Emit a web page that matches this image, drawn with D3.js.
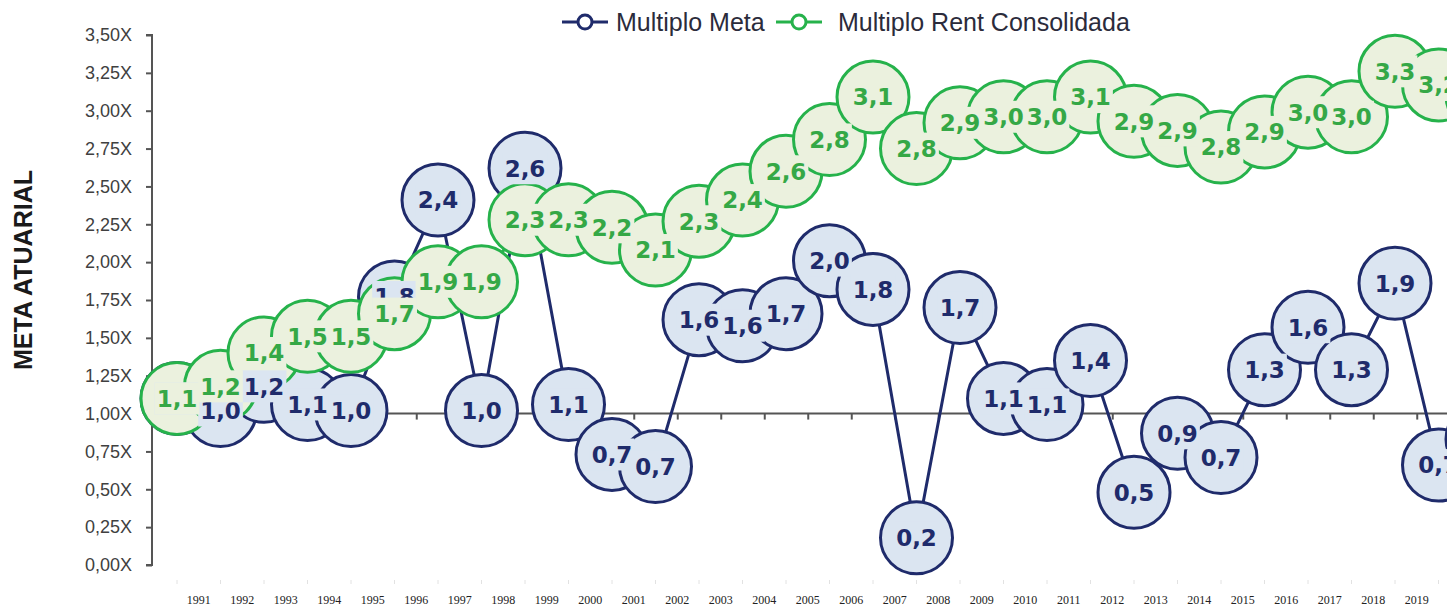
<!DOCTYPE html>
<html>
<head>
<meta charset="utf-8">
<script src="https://cdn.jsdelivr.net/npm/d3@7"></script>
<style>
  html, body { margin: 0; padding: 0; background: #fff; overflow: hidden; }
  svg { display: block; }
</style>
</head>
<body>
<svg id="chart" width="1447" height="613"></svg>
<script>
// --- data ---
const years = [1991, 1992, 1993, 1994, 1995, 1996, 1997, 1998, 1999, 2000,
               2001, 2002, 2003, 2004, 2005, 2006, 2007, 2008, 2009, 2010,
               2011, 2012, 2013, 2014, 2015, 2016, 2017, 2018, 2019, 2020, 2021];

const multiploMeta = [1.10, 1.02, 1.18, 1.06, 1.02, 1.77, 2.41, 1.02, 2.62, 1.06,
                      0.73, 0.65, 1.62, 1.58, 1.66, 2.01, 1.82, 0.18, 1.70, 1.10,
                      1.06, 1.35, 0.48, 0.87, 0.71, 1.29, 1.57, 1.29, 1.86, 0.66, 0.83];

const multiploRent = [1.10, 1.18, 1.40, 1.51, 1.51, 1.66, 1.87, 1.87, 2.28, 2.28,
                      2.23, 2.08, 2.27, 2.41, 2.60, 2.81, 3.09, 2.75, 2.92, 2.96,
                      2.96, 3.09, 2.93, 2.87, 2.76, 2.86, 2.99, 2.96, 3.26, 3.17, 3.10];

const yTicks = [0, 0.25, 0.5, 0.75, 1, 1.25, 1.5, 1.75, 2, 2.25, 2.5, 2.75, 3, 3.25, 3.5];

const seriesNames = ["Multiplo Meta", "Multiplo Rent Consolidada"];

class MultiploChart {
  constructor(_config) {
    this.config = {
      parentElement: _config.parentElement,
      left: 152,
      top: 35,
      bottom: 565,
      x0: 177,
      step: 43.5
    };
    this.initVis();
  }

  initVis() {
    let vis = this;
    vis.svg = d3.select(vis.config.parentElement);

    vis.x = d3.scaleLinear()
      .domain([years[0], years[years.length - 1]])
      .range([vis.config.x0, vis.config.x0 + (years.length - 1) * vis.config.step]);

    vis.y = d3.scaleLinear()
      .domain([0, 3.5])
      .range([vis.config.bottom, vis.config.top]);

    vis.labelFmt = v => d3.format(".1f")(v).replace(".", ",");

    vis.styles = [
      { name: seriesNames[0], values: multiploMeta, stroke: "#1f2b6b", fill: "#dbe5f1", text: "#1f2b6b" },
      { name: seriesNames[1], values: multiploRent, stroke: "#26b24b", fill: "#ebf1de", text: "#35a846" }
    ];

    vis.drawAxes();
    vis.drawSeries();
    vis.drawLegend();
  }

  drawAxes() {
    let vis = this;

    // y axis
    const yAxis = d3.axisLeft(vis.y)
      .tickValues(yTicks)
      .tickSize(6)
      .tickFormat(v => d3.format(".2f")(v).replace(".", ",") + "X");

    const gy = vis.svg.append("g")
      .attr("transform", `translate(${vis.config.left},0)`)
      .call(yAxis);
    gy.select(".domain").attr("stroke", "#555").attr("stroke-width", 2)
      .attr("d", `M-6,${vis.config.top}H0V${vis.config.bottom}H-6`);
    gy.selectAll(".tick line").attr("stroke", "#555").attr("stroke-width", 2);
    gy.selectAll(".tick text")
      .attr("x", -20)
      .attr("fill", "#404040")
      .style("font-family", "'Liberation Sans', Arial, sans-serif")
      .style("font-size", "18px");

    // horizontal axis crossing at 1.00
    const bands = years.map(d => d + 0.5);
    const xAxis = d3.axisBottom(vis.x)
      .tickValues(bands)
      .tickSize(6)
      .tickFormat("");
    const gx = vis.svg.append("g")
      .attr("transform", `translate(0,${vis.y(1)})`)
      .call(xAxis);
    gx.select(".domain")
      .attr("d", `M${vis.config.left},0H1500`)
      .attr("stroke", "#555").attr("stroke-width", 2);
    gx.selectAll(".tick line").attr("stroke", "#555").attr("stroke-width", 2);

    // year labels at bottom
    const gl = vis.svg.append("g");
    gl.selectAll("line.faint")
      .data(bands)
      .join("line")
        .attr("class", "faint")
        .attr("x1", d => vis.x(d) - 21.75).attr("x2", d => vis.x(d) - 21.75)
        .attr("y1", 580).attr("y2", 584)
        .attr("stroke", "#e2e2e2");
    gl.selectAll("text")
      .data(years)
      .join("text")
        .attr("x", d => vis.x(d + 0.5))
        .attr("y", 604)
        .attr("text-anchor", "middle")
        .attr("fill", "#222")
        .style("font-family", "'Liberation Serif', serif")
        .style("font-size", "12px")
        .text(d => d);

    // y title
    vis.svg.append("text")
      .attr("transform", "translate(32,270) rotate(-90)")
      .attr("text-anchor", "middle")
      .attr("fill", "#1a1a1a")
      .style("font-family", "'Liberation Sans', Arial, sans-serif")
      .style("font-weight", "bold")
      .style("font-size", "25px")
      .text("META ATUARIAL");
  }

  drawSeries() {
    let vis = this;
    const line = d3.line()
      .x((d, i) => vis.x(years[i]))
      .y(d => vis.y(d));

    // lines + markers for each series, labels afterwards (like Excel)
    vis.styles.forEach(s => {
      const g = vis.svg.append("g");
      g.append("path")
        .datum(s.values)
        .attr("d", line)
        .attr("fill", "none")
        .attr("stroke", s.stroke)
        .attr("stroke-width", 3);
      g.selectAll("circle")
        .data(s.values)
        .join("circle")
          .attr("cx", (d, i) => vis.x(years[i]))
          .attr("cy", d => vis.y(d))
          .attr("r", 36)
          .attr("fill", s.fill)
          .attr("stroke", s.stroke)
          .attr("stroke-width", 3);
    });

    vis.styles.forEach(s => {
      const g = vis.svg.append("g");
      const lbl = g.selectAll("g")
        .data(s.values)
        .join("g")
          .attr("transform", (d, i) => `translate(${vis.x(years[i])},${vis.y(d)})`);
      lbl.append("rect").attr("fill", s.fill);
      lbl.append("text")
        .attr("text-anchor", "middle")
        .attr("dy", "0.36em")
        .attr("fill", s.text)
        .style("font-family", "'DejaVu Sans', Verdana, sans-serif")
        .style("font-weight", "bold")
        .style("font-size", "23px")
        .text(d => vis.labelFmt(d));
      lbl.each(function() {
        const bb = d3.select(this).select("text").node().getBBox();
        d3.select(this).select("rect")
          .attr("x", bb.x - 2).attr("y", -16)
          .attr("width", bb.width + 4).attr("height", 32);
      });
    });
  }

  drawLegend() {
    let vis = this;
    const items = [
      { x: 562, tx: 616, s: vis.styles[0] },
      { x: 776, tx: 838, s: vis.styles[1] }
    ];
    const lg = vis.svg.append("g");
    items.forEach(it => {
      lg.append("line")
        .attr("x1", it.x).attr("x2", it.x + 46)
        .attr("y1", 22).attr("y2", 22)
        .attr("stroke", it.s.stroke).attr("stroke-width", 3);
      lg.append("circle")
        .attr("cx", it.x + 23).attr("cy", 22).attr("r", 7)
        .attr("fill", "#fff")
        .attr("stroke", it.s.stroke).attr("stroke-width", 3);
      lg.append("text")
        .attr("x", it.tx).attr("y", 31)
        .attr("fill", "#2b2b3b")
        .style("font-family", "'Liberation Sans', Arial, sans-serif")
        .style("font-size", "25px")
        .text(it.s.name);
    });
  }
}

new MultiploChart({ parentElement: "#chart" });
</script>
</body>
</html>
